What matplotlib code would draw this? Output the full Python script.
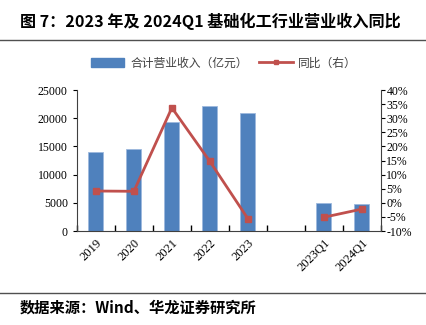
import numpy as np
import matplotlib.pyplot as plt
from matplotlib.lines import Line2D
from matplotlib.patches import Patch

# data
categories = ['2019', '2020', '2021', '2022', '2023', '', '2023Q1', '2024Q1']
revenue = [13950, 14480, 19270, 22160, 20870, np.nan, 5020, 4880]   # 亿元
yoy = [4.2, 4.1, 33.7, 14.7, -5.6, np.nan, -5.1, -2.2]              # %

bar_color = '#4F81BD'
line_color = '#C0504D'
cjk = ['Noto Sans CJK SC', 'DejaVu Sans']
serif = 'Liberation Serif'

fig = plt.figure(figsize=(4.27, 3.25), dpi=100)
ax = fig.add_axes([0.180, 0.289, 0.712, 0.434])
ax2 = ax.twinx()

x = np.arange(len(categories))
ax.bar(x, revenue, width=0.4, color=bar_color, edgecolor='#9DB9DE', linewidth=0.6)
ax2.plot(x, yoy, color=line_color, linewidth=2, marker='s', markersize=4)

ax.set_xlim(-0.5, len(categories) - 0.5)
ax.set_ylim(0, 25000)
ax.set_yticks(np.arange(0, 25001, 5000))
ax2.set_ylim(-10, 40)
ax2.set_yticks(np.arange(-10, 41, 5))
ax2.set_yticklabels([f'{v}%' for v in range(-10, 41, 5)])

# ticks on category boundaries, labels under centres
ax.set_xticks(np.arange(-0.5, len(categories), 1))
ax.set_xticklabels([])
ax.set_xticks(x, minor=True)
ax.set_xticklabels(categories, minor=True, rotation=45, ha='right',
                   rotation_mode='anchor', fontfamily=serif, fontsize=9)
ax.tick_params(axis='x', which='minor', length=0, pad=4)
ax.tick_params(axis='x', which='major', length=4, direction='in', width=1)

for a in (ax, ax2):
    a.spines['top'].set_visible(False)
    for s in a.spines.values():
        s.set_color('#404040')
ax.spines['right'].set_visible(False)
ax2.spines['left'].set_visible(False)
ax2.spines['bottom'].set_visible(False)
ax.tick_params(axis='y', direction='out', length=3, labelsize=8.5)
ax2.tick_params(axis='y', direction='out', length=3, labelsize=8.5, pad=1)
for lab in ax.get_yticklabels() + ax2.get_yticklabels():
    lab.set_fontfamily(serif)

# legend
handles = [Patch(color=bar_color),
           Line2D([0], [0], color=line_color, lw=2, marker='s', markersize=3)]
fig.legend(handles, ['合计营业收入（亿元）', '同比（右）'], loc='center',
           bbox_to_anchor=(0.525, 0.806), ncol=2, frameon=False,
           prop={'family': cjk, 'size': 8.5}, labelcolor='#404040',
           handlelength=2.8, handleheight=0.7, columnspacing=1.0, handletextpad=0.5)

# title, rules, source
fig.text(0.047, 0.935, '图 7：2023 年及 2024Q1 基础化工行业营业收入同比',
         fontfamily=cjk, fontsize=11.6, fontweight='bold', va='center')
fig.add_artist(Line2D([0, 1], [0.877, 0.877], color='#505050', lw=1))
fig.add_artist(Line2D([0, 1], [0.098, 0.098], color='#505050', lw=1))
fig.text(0.047, 0.055, '数据来源：Wind、华龙证券研究所',
         fontfamily=cjk, fontsize=11, fontweight='bold', va='center')

fig.savefig('out.png', dpi=100)
